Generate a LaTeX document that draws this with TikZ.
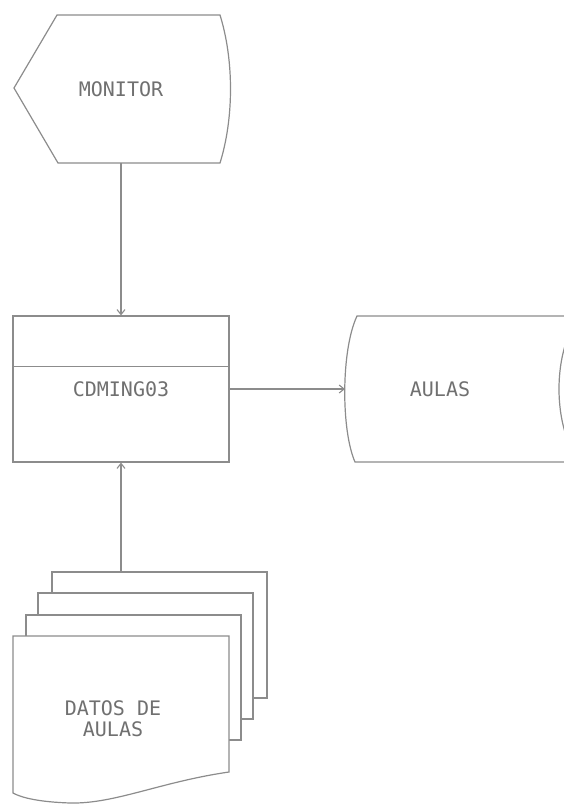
\documentclass[tikz,border=0pt]{standalone}
\usepackage{fontspec}
\newfontfamily\dotfont{DejaVu Sans Mono}
\usetikzlibrary{arrows.meta}
\definecolor{linegray}{HTML}{8C8C8C}
\definecolor{textgray}{HTML}{707070}
\tikzset{
  flow/.style={draw=linegray, line width=1.1pt, -{Straight Barb[length=5pt,width=8pt]}},
  outline/.style={draw=linegray, line width=1.2pt, fill=white},
  label/.style={text=textgray, font=\dotfont\fontsize{20}{21}\selectfont, align=center, inner sep=0pt}
}
\begin{document}
\begin{tikzpicture}[x=1pt,y=-1pt]
\useasboundingbox (0,0) rectangle (563,804);
% pantalla
\draw[outline] (57,15) -- (220,15) .. controls (234,60) and (234,118) .. (220,163) -- (58,163) -- (14,88) -- cycle;
\node[label, minimum height=148pt] (monitor) at (121,89) {MONITOR};
% programa
\node[outline, label, minimum width=216pt, minimum height=146pt] (prog) at (121,389) {CDMING03};
\draw[draw=linegray, line width=1.2pt] ([yshift=-51pt]prog.north west) -- ([yshift=-51pt]prog.north east);
% archivo
\draw[outline] (357,316) -- (580,316) .. controls (552,350) and (552,428) .. (580,462) -- (355,462) .. controls (341,430) and (341,350) .. (357,316) -- cycle;
\node[label] (aulas) at (440,389) {AULAS};
\coordinate (aulas in) at (345,389);
% documentos
\draw[outline] (52,572) rectangle (267,698);
\draw[outline] (38,593) rectangle (253,719);
\draw[outline] (26,615) rectangle (241,740);
\draw[outline] (13,636) -- (229,636) -- (229,772) .. controls (160,782) and (115,804) .. (70,803) .. controls (40,802) and (22,798) .. (13,793) -- cycle;
\node[label] (datos) at (113,719) {DATOS DE\\AULAS};
\coordinate (datos top) at (121,572);
% flujos
\draw[flow] (monitor) -- (prog);
\draw[flow] (prog) -- (aulas in);
\draw[flow] (datos top) -- (prog);
\end{tikzpicture}
\end{document}
